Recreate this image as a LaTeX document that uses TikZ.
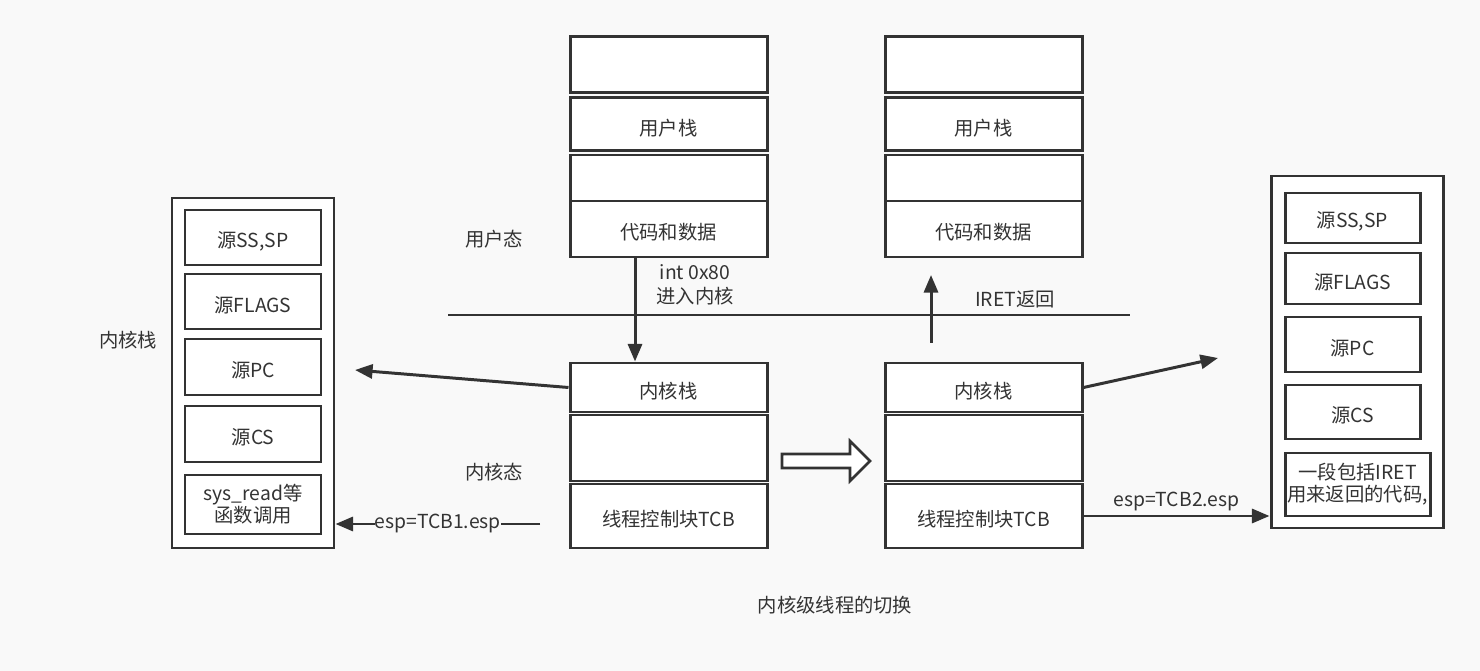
\documentclass[tikz,border=0pt]{standalone}
\usepackage{fontspec}
\setmainfont{Noto Sans CJK SC}
\usetikzlibrary{arrows.meta,fit}
\definecolor{bgc}{HTML}{F9F9F9}
\definecolor{ln}{HTML}{333333}
\begin{document}
\begin{tikzpicture}[x=0.02cm,y=-0.02cm,
  bx/.style={draw=ln,line width=1.7pt,fill=white,inner sep=0pt},
  txt/.style={text=ln,font=\fontsize{11}{13.5}\selectfont,inner sep=1pt},
  bt/.style={txt,yshift=-2pt},
  arr/.style={draw=ln,line width=1.7pt,-{Triangle[length=10pt,width=8pt]}}]
\fill[bgc] (0,0) rectangle (1480,671);
\useasboundingbox (0,0) rectangle (1480,671);
% middle-left stack
\node[bx,fit={(570,37)(767,93)}] (a1) {};
\node[bx,fit={(570,98)(767,151)}] (a2) {};
\node[bx,fit={(570,155)(767,201)}] (a3) {};
\node[bx,fit={(570,201)(767,257)}] (a4) {};
\node[bx,fit={(570,363)(767,412)}] (a5) {};
\node[bx,fit={(570,415)(767,481)}] (a6) {};
\node[bx,fit={(570,484)(767,548)}] (a7) {};
\node[bt] (a2t) at (a2.center) {用户栈};
\node[bt] (a4t) at (a4.center) {代码和数据};
\node[bt] (a5t) at (a5.center) {内核栈};
\node[bt] (a7t) at (a7.center) {线程控制块TCB};
% middle-right stack
\node[bx,fit={(885,37)(1082,93)}] (b1) {};
\node[bx,fit={(885,98)(1082,151)}] (b2) {};
\node[bx,fit={(885,155)(1082,201)}] (b3) {};
\node[bx,fit={(885,201)(1082,257)}] (b4) {};
\node[bx,fit={(885,363)(1082,412)}] (b5) {};
\node[bx,fit={(885,415)(1082,481)}] (b6) {};
\node[bx,fit={(885,484)(1082,548)}] (b7) {};
\node[bt] (b2t) at (b2.center) {用户栈};
\node[bt] (b4t) at (b4.center) {代码和数据};
\node[bt] (b5t) at (b5.center) {内核栈};
\node[bt] (b7t) at (b7.center) {线程控制块TCB};
% left kernel stack
\node[bx,fit={(172,198)(334,548)}] (L) {};
\node[bx,fit={(185,210)(321,265)}] (l1) {};
\node[bx,fit={(185,274)(321,329)}] (l2) {};
\node[bx,fit={(185,339)(321,395)}] (l3) {};
\node[bx,fit={(185,406)(321,462)}] (l4) {};
\node[bx,fit={(185,475)(321,534)}] (l5) {};
\node[bt] (l1t) at (l1.center) {源SS,SP};
\node[bt] (l2t) at (l2.center) {源FLAGS};
\node[bt] (l3t) at (l3.center) {源PC};
\node[bt] (l4t) at (l4.center) {源CS};
\node[txt,align=center,font=\fontsize{11}{12.5}\selectfont] (l5t) at (l5.center) {sys\_read等\\函数调用};
% right kernel stack
\node[bx,fit={(1271,176)(1443,528)}] (R) {};
\node[bx,fit={(1285,193)(1420,243)}] (r1) {};
\node[bx,fit={(1285,253)(1420,304)}] (r2) {};
\node[bx,fit={(1285,317)(1420,372)}] (r3) {};
\node[bx,fit={(1285,385)(1420,439)}] (r4) {};
\node[bx,fit={(1285,453)(1430,516)}] (r5) {};
\node[bt] (r1t) at (r1.center) {源SS,SP};
\node[bt] (r2t) at (r2.center) {源FLAGS};
\node[bt] (r3t) at (r3.center) {源PC};
\node[bt] (r4t) at (r4.center) {源CS};
\node[txt,align=center,font=\fontsize{11}{12.5}\selectfont] (r5t) at (r5.center) {一段包括IRET\\用来返回的代码,};
% divider
\coordinate (d1) at (448,315);
\coordinate (d2) at (1130,315);
\draw[ln,line width=1.5pt] (d1) -- (d2);
% labels
\node[txt] (t1) at (494,239) {用户态};
\node[txt] (t2) at (494,472) {内核态};
\node[txt] (t3) at (128,340) {内核栈};
\node[txt,align=center] (t4) at (695,285) {int 0x80\\进入内核};
\node[txt] (t5) at (1015,299) {IRET返回};
\node[txt] (t6) at (835,605) {内核级线程的切换};
% arrows
\draw[arr] (a4.south -| 635,0) -- (a5.north -| 635,0);
\coordinate (iu) at (931,275);
\draw[arr] (931,343) -- (iu);
\coordinate (la) at (355,370);
\draw[arr] (a5.west) -- (la);
\coordinate (ra) at (1218,358);
\draw[arr] (b5.east) -- (ra);
\coordinate (e1) at (540,524);
\draw[arr] (e1) -- (L.east |- e1) node[midway,fill=bgc,txt,inner sep=0pt] (t7) {esp=TCB1.esp};
\draw[arr] (b7.east |- 0,516) -- (R.west |- 0,516) node[midway,above=1pt,txt] (t8) {esp=TCB2.esp};
% hollow arrow
\draw[ln,line width=1.5pt,fill=white] (782,454) -- (850,454) -- (850,441) -- (870,461) -- (850,481) -- (850,468) -- (782,468) -- cycle;
\end{tikzpicture}
\end{document}
